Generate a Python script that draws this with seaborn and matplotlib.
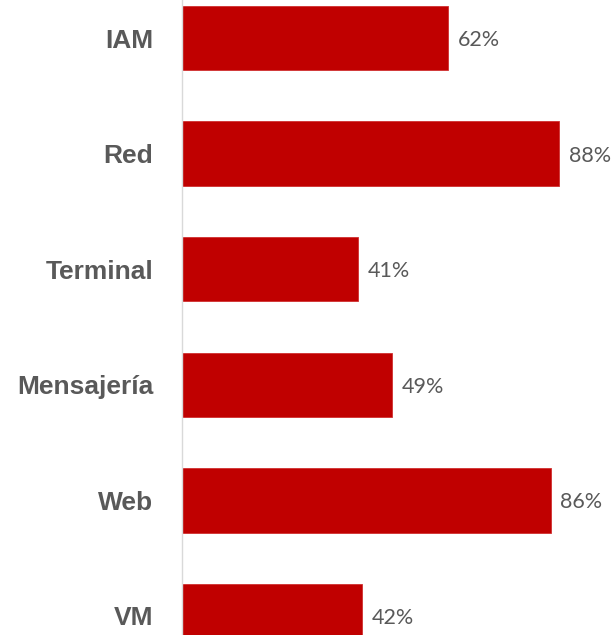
import matplotlib
matplotlib.use("Agg")
import matplotlib.pyplot as plt
import seaborn as sns
import pandas as pd

categories = ["IAM", "Red", "Terminal", "Mensajería", "Web", "VM"]
values = [62, 88, 41, 49, 86, 42]
value_labels = ["62%", "88%", "41%", "49%", "86%", "42%"]

df = pd.DataFrame({"cat": categories, "val": values})

sns.set_style("white")
plt.rcParams["font.family"] = ["Liberation Sans", "DejaVu Sans"]

W, H, DPI = 613, 635, 100
fig = plt.figure(figsize=(W / DPI, H / DPI), dpi=DPI)
left_px = 182.5
ax = fig.add_axes([left_px / W, 0, 1 - left_px / W, 1])

sns.barplot(data=df, y="cat", x="val", orient="h", color="#C00000",
            saturation=1, width=0.558, ax=ax, edgecolor="#D03030", linewidth=0.6)

ppx = 4.28
ax.set_xlim(0, (W - left_px) / ppx)
ax.set_ylim((H - 38) / 115.6, -38 / 115.6)

for i, (v, lab) in enumerate(zip(values, value_labels)):
    ax.annotate(lab, xy=(v, i), xytext=(7.0, -1.5), textcoords="offset points",
                ha="left", va="center", fontsize=15.5, color="#595959",
                family=["Lato", "DejaVu Sans"])

ax.set_xlabel("")
ax.set_ylabel("")
ax.set_xticks([])
ax.tick_params(axis="y", length=0, pad=21)
for t in ax.get_yticklabels():
    t.set_fontweight("bold")
    t.set_fontsize(19)
    t.set_color("#595959")

for s in ["top", "right", "bottom"]:
    ax.spines[s].set_visible(False)
ax.spines["left"].set_color("#D9D9D9")
ax.spines["left"].set_linewidth(1.0)

fig.savefig("out.png", dpi=DPI)
